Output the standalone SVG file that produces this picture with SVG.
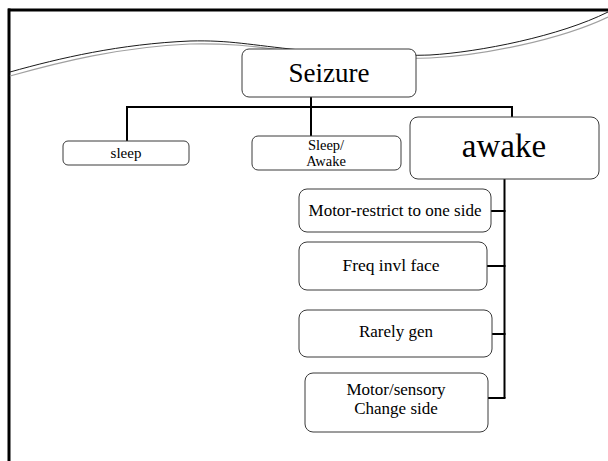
<svg xmlns="http://www.w3.org/2000/svg" width="608" height="461" viewBox="0 0 608 461">
  <style>
    .box { fill: #ffffff; stroke: #3a3a3a; stroke-width: 1; }
    .lbl { font-family: 'Liberation Serif', 'DejaVu Serif', 'Times New Roman', serif; fill: #000000; text-anchor: middle; }
    .wire { fill: none; stroke: #000000; stroke-width: 2; }
    .swoosh-dark { fill: none; stroke: #1a1a1a; stroke-width: 1; }
    .swoosh-light { fill: none; stroke: #a0a0a0; stroke-width: 1.2; }
  </style>

  <rect x="0" y="0" width="608" height="461" fill="#ffffff"/>

  <!-- slide frame -->
  <g id="frame">
    <line x1="8" y1="10" x2="608" y2="10" stroke="#000" stroke-width="3"/>
    <line x1="9" y1="8.5" x2="9" y2="461" stroke="#000" stroke-width="3"/>
  </g>

  <!-- decorative swoosh -->
  <g id="swoosh">
    <path class="swoosh-light" d="M10,76 C60,62 120,47 190,44 C240,43 260,48 300,52 C350,57 400,59 430,58 C480,56 560,40 608,17"/>
    <path class="swoosh-dark" d="M10,72 C60,58 120,44 190,41 C230,40 250,45 300,50 C350,55 400,56 430,55 C480,52 560,36 608,12"/>
  </g>

  <!-- connectors -->
  <g id="connectors">
    <path class="wire" d="M311,97 V107"/>
    <path class="wire" d="M127,142 V107 H512 V117"/>
    <path class="wire" d="M311,107 V136"/>
    <path class="wire" d="M504.5,179 V398"/>
    <path class="wire" d="M491,211 H505.5"/>
    <path class="wire" d="M487,266 H505.5"/>
    <path class="wire" d="M492,334 H505.5"/>
    <path class="wire" d="M488,398 H505.5"/>
  </g>

  <g id="seizure">
    <rect class="box" x="242" y="49" width="174" height="48" rx="7"/>
    <text class="lbl" x="329" y="82" font-size="27" font-family="Liberation Serif, serif">Seizure</text>
  </g>

  <g id="sleep">
    <rect class="box" x="63" y="141" width="126" height="24" rx="5"/>
    <text class="lbl" x="126" y="158" font-size="15" font-family="Liberation Serif, serif">sleep</text>
  </g>

  <g id="sleep-awake">
    <rect class="box" x="252" y="136" width="149" height="34" rx="6"/>
    <text class="lbl" x="326" y="150" font-size="14.5" font-family="Liberation Serif, serif">Sleep/</text>
    <text class="lbl" x="326" y="166" font-size="14.5" font-family="Liberation Serif, serif">Awake</text>
  </g>

  <g id="awake">
    <rect class="box" x="410" y="117" width="189" height="62" rx="8"/>
    <text class="lbl" x="504" y="157" font-size="33" font-family="Liberation Serif, serif">awake</text>
  </g>

  <g id="motor-restrict">
    <rect class="box" x="299" y="189" width="192" height="43" rx="8"/>
    <text class="lbl" x="395" y="216" font-size="17" font-family="Liberation Serif, serif">Motor-restrict to one side</text>
  </g>

  <g id="freq-face">
    <rect class="box" x="299" y="242" width="188" height="48" rx="8"/>
    <text class="lbl" x="391" y="271" font-size="17.5" font-family="Liberation Serif, serif">Freq invl face</text>
  </g>

  <g id="rarely-gen">
    <rect class="box" x="299" y="310" width="193" height="47" rx="8"/>
    <text class="lbl" x="396" y="337" font-size="17" font-family="Liberation Serif, serif">Rarely gen</text>
  </g>

  <g id="motor-sensory">
    <rect class="box" x="305" y="373" width="183" height="59" rx="8"/>
    <text class="lbl" x="396" y="395" font-size="17" font-family="Liberation Serif, serif">Motor/sensory</text>
    <text class="lbl" x="396" y="414" font-size="17" font-family="Liberation Serif, serif">Change side</text>
  </g>
</svg>
